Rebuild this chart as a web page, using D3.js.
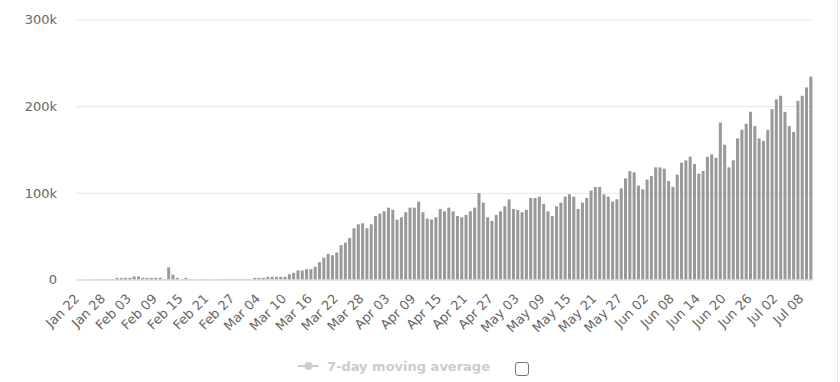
<!DOCTYPE html>
<html>
<head>
<meta charset="utf-8">
<script src="https://cdn.jsdelivr.net/npm/d3@7"></script>
<style>
  body { margin: 0; background: #fff; }
  text { font-family: "DejaVu Sans", "Lucida Grande", sans-serif; }
</style>
</head>
<body>
<script>
// daily new cases, one value per day starting Jan 22
var startDay = new Date(2020, 0, 22);
var dailyCases = [
  0, 100, 200, 300, 300, 400, 400, 300, 400, 1900,
  1900, 1900, 1900, 3500, 3500, 1900, 1900, 1900, 1900, 1900,
  400, 14000, 5500, 1900, 400, 1900, 300, 300, 300, 400,
  400, 300, 300, 400, 400, 400, 400, 400, 400, 400,
  400, 1900, 1900, 1900, 3100, 3100, 3100, 3100, 3100, 6100,
  7700, 10400, 10400, 11900, 11900, 14600, 20000, 25300, 29600, 28000,
  31100, 39600, 42600, 48000, 59100, 63700, 64900, 59100, 63700, 73300,
  76000, 78700, 82900, 80300, 69100, 71800, 77600, 82900, 82900, 89900,
  77600, 70300, 69100, 71800, 81400, 78700, 82900, 78700, 73300, 71800,
  74500, 78700, 82900, 99800, 88700, 71800, 67600, 74500, 78700, 84500,
  92500, 81400, 80300, 77600, 80300, 94100, 94100, 95600, 87200, 78700,
  73300, 84500, 88700, 95600, 98300, 95600, 81400, 88700, 94100, 102500,
  106800, 106800, 98300, 95600, 89900, 92500, 105200, 116700, 125200, 123600,
  108300, 104100, 115200, 119400, 129400, 129400, 127900, 113700, 106800, 121000,
  134800, 137500, 141700, 133200, 122100, 125200, 141700, 144400, 140500, 181200,
  155500, 129400, 137500, 162800, 172800, 179700, 193500, 177000, 162800, 160100,
  172800, 196600, 207700, 212000, 193500, 177000, 170100, 206200, 212000, 221600, 234200
];
var yTicks = [0, 100000, 200000, 300000];
var tickEvery = 6;
var legendLabel = "7-day moving average";

var width = 840, height = 382;
var margin = {left: 76, right: 27, top: 19.5, bottom: 102.5};

var days = dailyCases.map(function(v, i){ return d3.timeDay.offset(startDay, i); });

var svg = d3.select("body").append("svg")
    .attr("width", width)
    .attr("height", height);

var x = d3.scaleBand()
    .domain(d3.range(dailyCases.length))
    .range([margin.left, width - margin.right])
    .paddingInner(0.3)
    .paddingOuter(0.15);

var y = d3.scaleLinear()
    .domain([0, 300000])
    .range([height - margin.bottom, margin.top]);

// y axis with gridlines
var yAxis = svg.append("g")
    .attr("transform", "translate(" + margin.left + ",0)")
    .call(d3.axisLeft(y)
      .tickValues(yTicks)
      .tickSize(-(width - margin.left - margin.right))
      .tickPadding(19)
      .tickFormat(function(d){ return d === 0 ? "0" : (d / 1000) + "k"; }));
yAxis.select(".domain").remove();
yAxis.selectAll("line").attr("stroke", "#e6e6e6");
yAxis.selectAll("text").attr("fill", "#666").style("font-size", "13px");

// bars
svg.selectAll(".bar")
  .data(dailyCases)
  .enter()
  .append("rect")
  .attr("class", "bar")
  .attr("x", function(d, i){ return x(i); })
  .attr("width", x.bandwidth())
  .attr("y", function(d){ return y(d); })
  .attr("height", function(d){ return y(0) - y(d); })
  .attr("fill", "#999");

// x axis line
svg.append("line")
  .attr("x1", margin.left).attr("x2", width - margin.right)
  .attr("y1", y(0) + 0.5).attr("y2", y(0) + 0.5)
  .attr("stroke", "#ccd6eb");

// rotated date labels
var fmt = d3.timeFormat("%b %d");
var tickIdx = d3.range(0, dailyCases.length, tickEvery);
svg.selectAll(".xlab")
  .data(tickIdx)
  .enter()
  .append("text")
  .attr("class", "xlab")
  .attr("text-anchor", "end")
  .attr("transform", function(i){
    return "translate(" + (x(i) + x.bandwidth() / 2 + 2) + "," + (y(0) + 20) + ") rotate(-45)";
  })
  .attr("fill", "#666")
  .style("font-size", "13px")
  .text(function(i){ return fmt(days[i]); });

// legend (hidden series look)
var lg = svg.append("g").attr("transform", "translate(0,366)");
lg.append("line")
  .attr("x1", 298).attr("x2", 319).attr("y1", 0).attr("y2", 0)
  .attr("stroke", "#ccc").attr("stroke-width", 2);
lg.append("circle")
  .attr("cx", 308.5).attr("cy", 0).attr("r", 4)
  .attr("fill", "#ccc");
lg.append("text")
  .attr("x", 327).attr("y", 0).attr("dy", "0.35em")
  .attr("fill", "#ccc")
  .style("font-size", "13px")
  .style("font-weight", "bold")
  .text(legendLabel);
lg.append("rect")
  .attr("x", 515.5).attr("y", -3.5)
  .attr("width", 13).attr("height", 13)
  .attr("rx", 2.5)
  .attr("fill", "#fff")
  .attr("stroke", "#767676");

// container edge on the right
svg.append("line")
  .attr("x1", 837.5).attr("x2", 837.5).attr("y1", 0).attr("y2", height)
  .attr("stroke", "#e6e6e6");
</script>
</body>
</html>
